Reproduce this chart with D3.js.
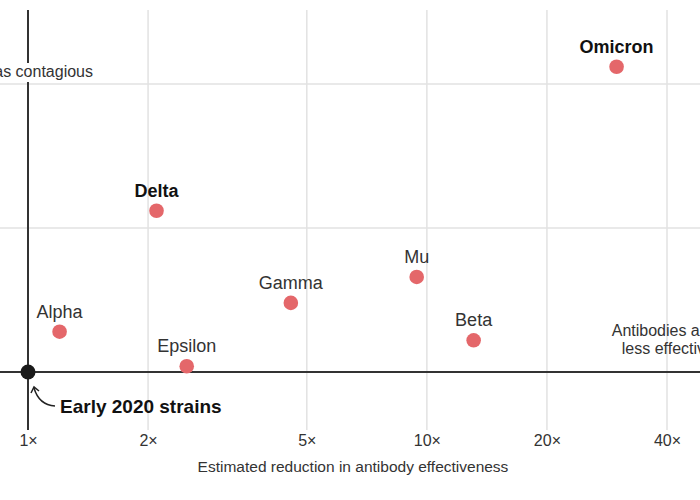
<!DOCTYPE html>
<html>
<head>
<meta charset="utf-8">
<script src="https://cdn.jsdelivr.net/npm/d3@7/dist/d3.min.js"></script>
<style>
  html, body { margin: 0; padding: 0; background: #fff; }
  svg { display: block; }
  text { font-family: "Liberation Sans", Arial, Helvetica, sans-serif; }
</style>
</head>
<body>
<svg id="chart" width="700" height="500"></svg>
<script>
// ---- data ----
const variants = ["Alpha", "Epsilon", "Delta", "Gamma", "Mu", "Beta", "Omicron"];
const antibodyReduction = [1.2, 2.5, 2.1, 4.56, 9.43, 13.1, 29.9];
const contagiousness = [1.14, 1.02, 1.56, 1.24, 1.33, 1.11, 2.06];
const boldVariants = ["Delta", "Omicron"];
const baseline = { name: "Early 2020 strains", reduction: 1, contagious: 1 };
const xTicks = [1, 2, 5, 10, 20, 40];
const xTickLabels = ["1×", "2×", "5×", "10×", "20×", "40×"];
const yGrid = [1.5, 2];
const yLabel = "Twice as contagious";
const xTitle = "Estimated reduction in antibody effectiveness";
const rightNote = ["→", "Antibodies are", "less effective"];

// ---- setup ----
const svg = d3.select("#chart");
const x = d3.scaleLog().domain([1, 40]).range([28, 667]);
const y = d3.scaleLinear().domain([1, 2]).range([372, 84]);
const gridTop = 10, gridBottom = 430;

// vertical gridlines (except 1x)
svg.append("g").selectAll("line")
  .data(xTicks.filter(d => d !== 1))
  .join("line")
  .attr("x1", d => x(d)).attr("x2", d => x(d))
  .attr("y1", gridTop).attr("y2", gridBottom)
  .attr("stroke", "#e2e2e2").attr("stroke-width", 1.5);

// horizontal gridlines
svg.append("g").selectAll("line")
  .data(yGrid)
  .join("line")
  .attr("x1", 0).attr("x2", 700)
  .attr("y1", d => y(d)).attr("y2", d => y(d))
  .attr("stroke", "#e2e2e2").attr("stroke-width", 1.5);

// axes lines (dark)
svg.append("line")
  .attr("x1", x(1)).attr("x2", x(1)).attr("y1", gridTop).attr("y2", gridBottom)
  .attr("stroke", "#333").attr("stroke-width", 2);
svg.append("line")
  .attr("x1", 0).attr("x2", 700).attr("y1", y(1)).attr("y2", y(1))
  .attr("stroke", "#333").attr("stroke-width", 2);

// y label with white background
const yl = svg.append("g");
const ylt = yl.append("text")
  .attr("x", 93).attr("y", 77)
  .attr("text-anchor", "end")
  .attr("font-size", 16).attr("fill", "#333")
  .text(yLabel);
const bb = ylt.node().getBBox();
yl.insert("rect", "text")
  .attr("x", bb.x - 2).attr("y", 63).attr("width", bb.width + 4).attr("height", 19)
  .attr("fill", "#fff");

// x axis tick labels
const xAxis = d3.axisBottom(x)
  .tickValues(xTicks)
  .tickFormat((d, i) => xTickLabels[i])
  .tickSize(0).tickPadding(0);
const gx = svg.append("g").attr("transform", "translate(0,434)").call(xAxis);
gx.select(".domain").remove();
gx.selectAll("text")
  .attr("font-size", 16).attr("fill", "#333")
  .attr("font-family", "\"Liberation Sans\", Arial, sans-serif")
  .attr("dy", "0.78em");

// x title
svg.append("text")
  .attr("x", 353).attr("y", 472)
  .attr("text-anchor", "middle")
  .attr("font-size", 15.5).attr("fill", "#333")
  .text(xTitle);

// right note
svg.append("text")
  .attr("text-anchor", "end")
  .attr("font-size", 16).attr("fill", "#333")
  .selectAll("tspan")
  .data(rightNote)
  .join("tspan")
  .attr("x", 714)
  .attr("y", (d, i) => 318 + i * 18)
  .text(d => d);

// points
const data = variants.map((v, i) => ({ name: v, rx: antibodyReduction[i], cy: contagiousness[i], bold: boldVariants.includes(v) }));

svg.append("g").selectAll("circle")
  .data(data)
  .join("circle")
  .attr("cx", d => x(d.rx)).attr("cy", d => y(d.cy))
  .attr("r", 7.3)
  .attr("fill", "#e4676a");

svg.append("g").selectAll("text")
  .data(data)
  .join("text")
  .attr("x", d => x(d.rx)).attr("y", d => y(d.cy) - 14)
  .attr("text-anchor", "middle")
  .attr("font-size", 18)
  .attr("font-weight", d => d.bold ? "bold" : "normal")
  .attr("fill", d => d.bold ? "#111" : "#333")
  .text(d => d.name);

// baseline point
svg.append("circle")
  .attr("cx", x(baseline.reduction)).attr("cy", y(baseline.contagious))
  .attr("r", 7.5).attr("fill", "#1a1a1a");

// arrow annotation
const bx = x(baseline.reduction), by = y(baseline.contagious);
svg.append("path")
  .attr("d", `M${bx + 27},${by + 34} Q${bx + 11},${by + 33} ${bx + 6},${by + 16}`)
  .attr("fill", "none").attr("stroke", "#222").attr("stroke-width", 1.5);
svg.append("path")
  .attr("d", `M${bx + 3},${by + 21} L${bx + 6},${by + 15} L${bx + 11},${by + 19}`)
  .attr("fill", "none").attr("stroke", "#222").attr("stroke-width", 1.5);

svg.append("text")
  .attr("x", bx + 32).attr("y", by + 41)
  .attr("font-size", 19).attr("font-weight", "bold").attr("fill", "#111")
  .text(baseline.name);
</script>
</body>
</html>
